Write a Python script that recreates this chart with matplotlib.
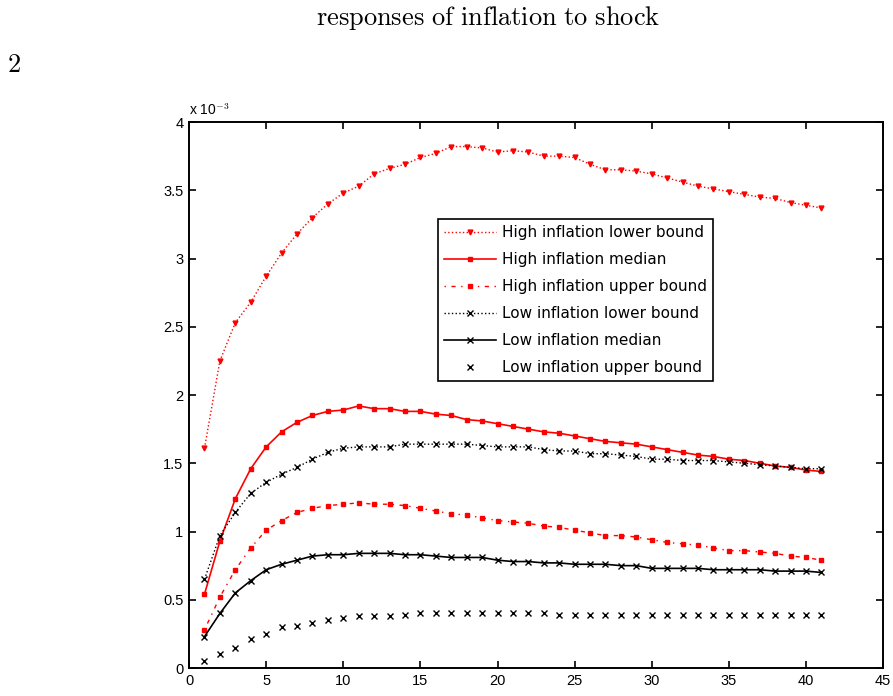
import matplotlib
matplotlib.use('Agg')
import matplotlib.pyplot as plt
import numpy as np

plt.rcParams['mathtext.fontset'] = 'cm'
plt.rcParams['font.family'] = ['Liberation Sans', 'DejaVu Sans']

# horizon
h = np.arange(1, 42)

# values in units of 1e-3
high_lower = [1.61, 2.25, 2.53, 2.68, 2.87, 3.04, 3.18, 3.30, 3.40, 3.48,
              3.53, 3.62, 3.66, 3.69, 3.74, 3.77, 3.82, 3.82, 3.81, 3.78,
              3.79, 3.78, 3.75, 3.75, 3.74, 3.69, 3.65, 3.65, 3.64, 3.62,
              3.59, 3.56, 3.53, 3.51, 3.49, 3.47, 3.45, 3.44, 3.41, 3.39, 3.37]
high_median = [0.54, 0.93, 1.24, 1.46, 1.62, 1.73, 1.80, 1.85, 1.88, 1.89,
               1.92, 1.90, 1.90, 1.88, 1.88, 1.86, 1.85, 1.82, 1.81, 1.79,
               1.77, 1.75, 1.73, 1.72, 1.70, 1.68, 1.66, 1.65, 1.64, 1.62,
               1.60, 1.58, 1.56, 1.55, 1.53, 1.52, 1.50, 1.48, 1.47, 1.45, 1.44]
high_upper = [0.28, 0.52, 0.72, 0.88, 1.01, 1.08, 1.14, 1.17, 1.19, 1.20,
              1.21, 1.20, 1.20, 1.19, 1.17, 1.15, 1.13, 1.12, 1.10, 1.08,
              1.07, 1.06, 1.04, 1.03, 1.01, 0.99, 0.97, 0.97, 0.96, 0.94,
              0.92, 0.91, 0.90, 0.88, 0.86, 0.86, 0.85, 0.84, 0.82, 0.81, 0.79]
low_lower = [0.65, 0.97, 1.14, 1.28, 1.36, 1.42, 1.47, 1.53, 1.58, 1.61,
             1.62, 1.62, 1.62, 1.64, 1.64, 1.64, 1.64, 1.64, 1.63, 1.62,
             1.62, 1.62, 1.60, 1.59, 1.59, 1.57, 1.57, 1.56, 1.55, 1.53,
             1.53, 1.52, 1.52, 1.52, 1.51, 1.50, 1.49, 1.48, 1.47, 1.46, 1.46]
low_median = [0.23, 0.40, 0.55, 0.64, 0.72, 0.76, 0.79, 0.82, 0.83, 0.83,
              0.84, 0.84, 0.84, 0.83, 0.83, 0.82, 0.81, 0.81, 0.81, 0.79,
              0.78, 0.78, 0.77, 0.77, 0.76, 0.76, 0.76, 0.75, 0.75, 0.73,
              0.73, 0.73, 0.73, 0.72, 0.72, 0.72, 0.72, 0.71, 0.71, 0.71, 0.70]
low_upper = [0.05, 0.10, 0.15, 0.21, 0.25, 0.30, 0.31, 0.33, 0.35, 0.37,
             0.38, 0.38, 0.38, 0.39, 0.40, 0.40, 0.40, 0.40, 0.40, 0.40,
             0.40, 0.40, 0.40, 0.39, 0.39, 0.39, 0.39, 0.39, 0.39, 0.39,
             0.39, 0.39, 0.39, 0.39, 0.39, 0.39, 0.39, 0.39, 0.39, 0.39, 0.39]

labels = ['High inflation lower bound', 'High inflation median',
          'High inflation upper bound', 'Low inflation lower bound',
          'Low inflation median', 'Low inflation upper bound']

fig = plt.figure(figsize=(8.93, 6.96), dpi=100)
ax = fig.add_axes([0.2117, 0.0402, 0.7772, 0.7845])

ax.plot(h, high_lower, color='red', ls=':', lw=1.0, marker='v', ms=3.5, label=labels[0])
ax.plot(h, high_median, color='red', ls='-', lw=1.2, marker='s', ms=2.5, label=labels[1])
ax.plot(h, high_upper, color='red', ls=(0, (1, 4, 3, 4)), lw=1.0, marker='s', ms=3.5, label=labels[2])
ax.plot(h, low_lower, color='black', ls=':', lw=1.0, marker='x', ms=4.5, mew=1.0, label=labels[3])
ax.plot(h, low_median, color='black', ls='-', lw=1.2, marker='x', ms=4, mew=1.0, label=labels[4])
ax.plot(h, low_upper, color='black', ls='none', marker='x', ms=4.5, mew=1.0, label=labels[5])

ax.set_xlim(0, 45)
ax.set_ylim(0, 4)
ax.set_xticks(np.arange(0, 46, 5))
ax.set_yticks(np.arange(0, 4.01, 0.5))
ax.set_yticklabels(['0', '0.5', '1', '1.5', '2', '2.5', '3', '3.5', '4'])
ax.tick_params(direction='in', length=5, width=1.2, top=True, right=True,
               labelsize=10.5, pad=4)
for s in ax.spines.values():
    s.set_linewidth(1.4)

# exponent label, MATLAB style
ax.text(0.0, 1.008, r'x 10$^{-3}$', transform=ax.transAxes, fontsize=10,
        ha='left', va='bottom')

leg = ax.legend(loc='upper left', bbox_to_anchor=(0.359, 0.822), borderaxespad=0,
                fancybox=False, edgecolor='black', framealpha=1,
                prop={'family': 'DejaVu Sans', 'size': 11},
                handlelength=3.4, handletextpad=0.35, labelspacing=0.78,
                borderpad=0.4)
leg.get_frame().set_linewidth(1.2)

fig.text(0.547, 0.974, r'$\mathrm{responses\ of\ inflation\ to\ shock}$',
         ha='center', va='center', fontsize=19)
fig.text(0.008, 0.907, r'$\mathrm{2}$', ha='left', va='center', fontsize=19)

fig.savefig('out.png', dpi=100)
